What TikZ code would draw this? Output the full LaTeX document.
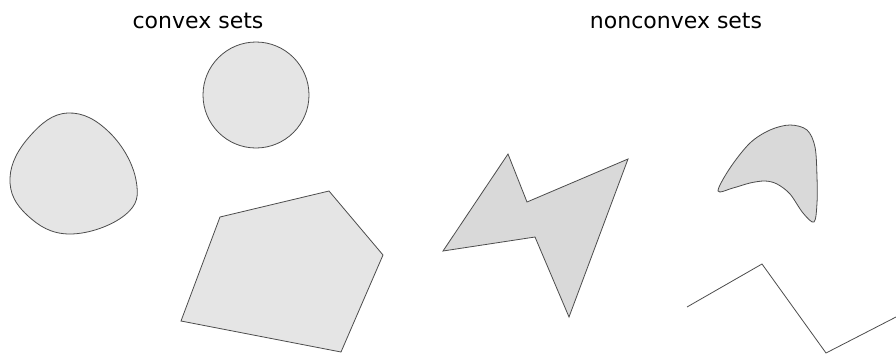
\documentclass[tikz,border=0pt]{standalone}
\usepackage{fontspec}
\setmainfont{DejaVu Sans}
\begin{document}
\begin{tikzpicture}[x=1pt,y=-1pt,
  convexset/.style={draw=black!70,line width=0.8pt,fill=black!10},
  nonconvexset/.style={draw=black!70,line width=0.8pt,fill=black!15},
  title/.style={font=\fontsize{22}{26}\selectfont,inner sep=0pt}]
\useasboundingbox (0,0) rectangle (896,354);
\node[title] (tc) at (198,21) {convex sets};
\node[title] (tn) at (676,21) {nonconvex sets};
% blob
\draw[convexset] plot[smooth cycle,tension=0.7] coordinates {(68,113) (110,133) (136,180) (125,215) (70,234) (27,215) (10,178) (30,136)};
% circle
\draw[convexset] (256,95) circle[radius=53];
% pentagon
\draw[convexset] (220,217) -- (329,191) -- (383,255) -- (341,352) -- (181,321) -- cycle;
% lightning
\draw[nonconvexset] (508,154) -- (527,202) -- (628,159) -- (569,317) -- (535,237) -- (443,251) -- cycle;
% boomerang
\draw[nonconvexset] plot[smooth cycle,tension=0.55] coordinates {(718,191) (730,168) (750,143) (770,130) (790,125) (807,130) (815,147) (817,177) (817,203) (814,222) (803,213) (790,194) (777,184) (765,181) (750,183) (733,188)};
% polyline
\draw[black!70,line width=0.8pt] (687,307) -- (762,264) -- (826,353) -- (896,317);
\end{tikzpicture}
\end{document}
